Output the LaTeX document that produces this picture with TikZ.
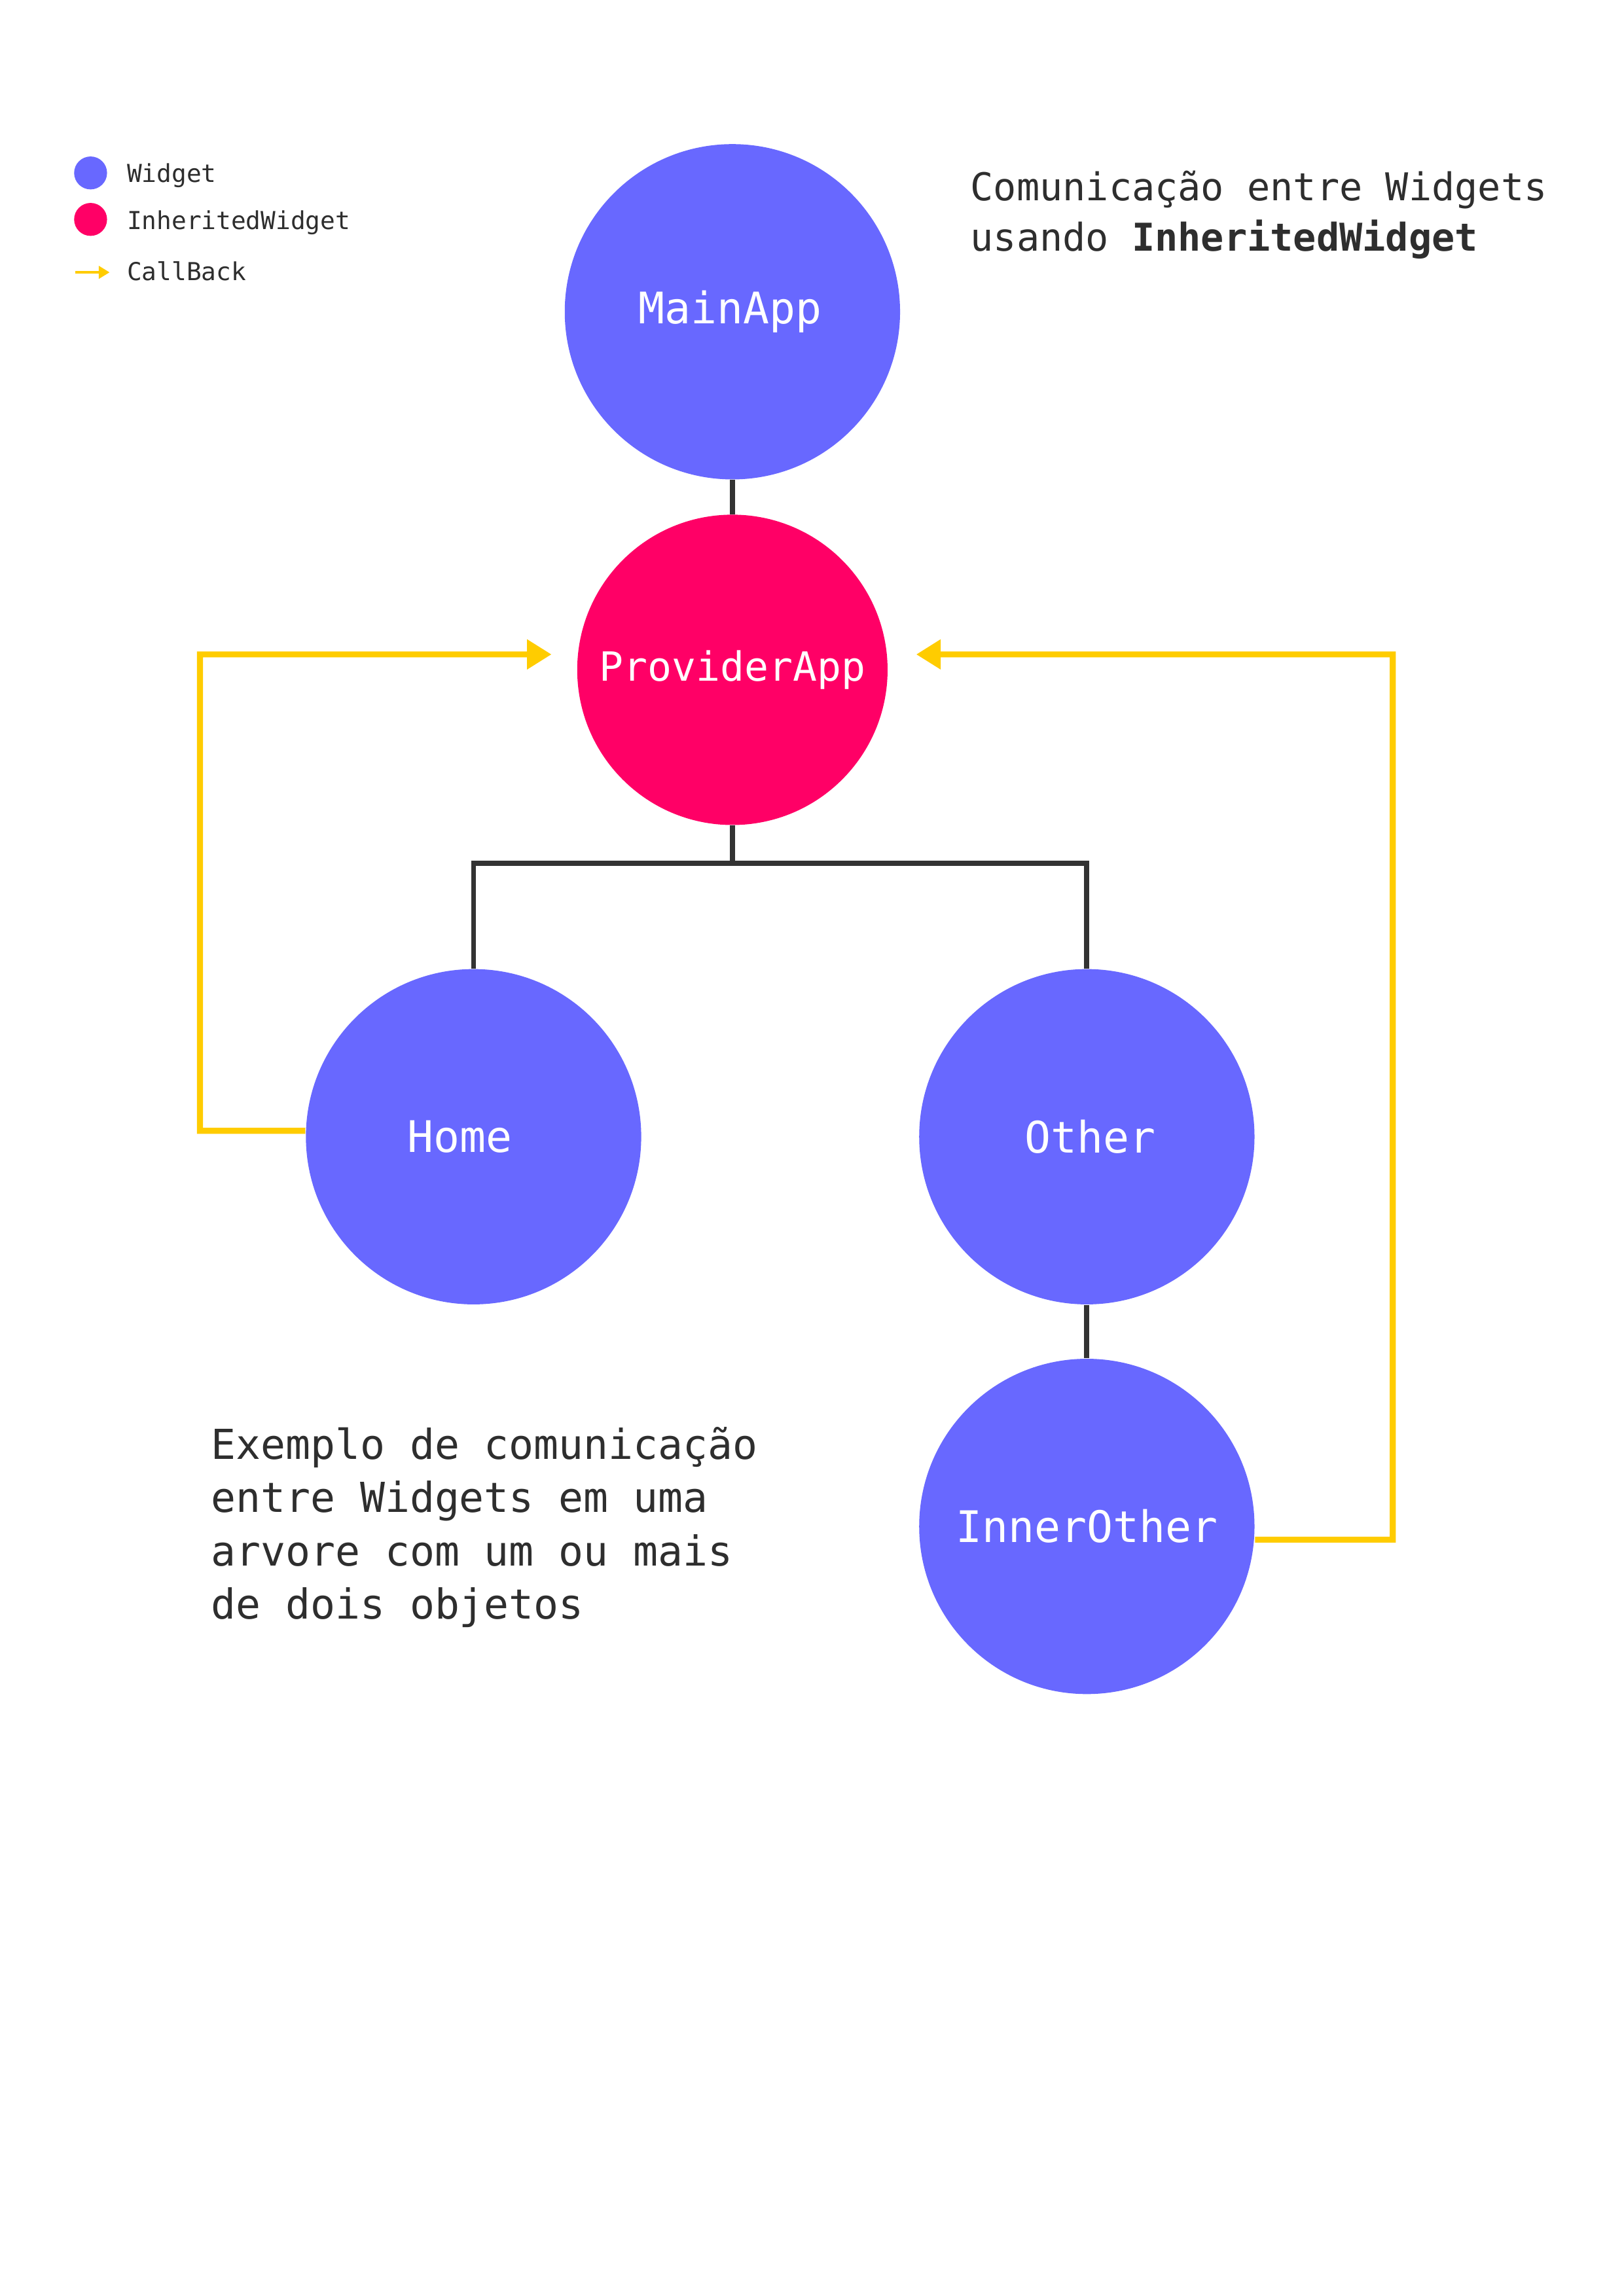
\documentclass[tikz,border=0pt]{standalone}
\usepackage{fontspec}
\setmainfont{DejaVu Sans}
\newfontfamily\monofnt{DejaVu Sans Mono}
\usetikzlibrary{arrows.meta,backgrounds}
\definecolor{wblue}{HTML}{6868FF}
\definecolor{wpink}{HTML}{FF0066}
\definecolor{cbyel}{HTML}{FFCC00}
\definecolor{treegray}{HTML}{333333}
\definecolor{txtgray}{HTML}{2E2E2E}
\begin{document}
\begin{tikzpicture}[x=0.19022mm,y=-0.19022mm,
  widget/.style={circle,fill=wblue,draw=none,inner sep=0pt,minimum size=43.37mm,
    text=white,font=\monofnt\fontsize{16}{19}\selectfont},
  inherited/.style={circle,fill=wpink,draw=none,inner sep=0pt,minimum size=40.14mm,
    text=white,font=\monofnt\fontsize{14.8}{18}\selectfont},
  treeline/.style={draw=treegray,line width=1.9pt},
  cbline/.style={draw=cbyel,line width=2.2pt,line join=miter,
    -{Triangle[length=3.16mm,width=3.69mm]}},
  legdot/.style={circle,inner sep=0pt,minimum size=4.26mm,draw=none},
  legtext/.style={anchor=base west,inner sep=0pt,text=txtgray,
    font=\monofnt\fontsize{9.1}{11}\selectfont},
  bigtext/.style={anchor=base west,inner sep=0pt,align=left,text=txtgray}
]
\useasboundingbox (0,0) rectangle (1104,1561.35);

% nodes
\node[widget] (main) at (498,212) {MainApp\kern0.5mm};
\node[inherited] (prov) at (498,455.5) {ProviderApp};
\node[widget] (home) at (322,773) {Home\kern3.6mm};
\node[widget] (other) at (739,773) {\kern0.8mmOther};
\node[widget] (inner) at (739,1038) {InnerOther};

\coordinate (bus) at (498,587);
\coordinate (cbL1) at (136,769);
\coordinate (cbL2) at (136,445);
\coordinate (tipL) at (375,445);
\coordinate (cbR1) at (947,1047);
\coordinate (cbR2) at (947,445);
\coordinate (tipR) at (623,445);

\begin{pgfonlayer}{background}
\fill[white] (0,0) rectangle (1104,1561.35);
\draw[treeline] (main) -- (prov);
\draw[treeline] (prov) -- (bus);
\draw[treeline,line join=miter] (bus) -| (home);
\draw[treeline,line join=miter] (bus) -| (other);
\draw[treeline] (other) -- (inner);
\draw[cbline] ([yshift=0.76mm]home.west) -- (cbL1) -- (cbL2) -- (tipL);
\draw[cbline] ([yshift=-1.71mm]inner.east) -- (cbR1) -- (cbR2) -- (tipR);
\end{pgfonlayer}

% legend
\node[legdot,fill=wblue] (ldw) at (61.6,117.6) {};
\node[legtext] (ltw) at (86,123.8) {Widget};
\node[legdot,fill=wpink] (ldi) at (61.6,149.2) {};
\node[legtext] (lti) at (86,155.8) {InheritedWidget};
\coordinate (la1) at (51.3,185.2);
\coordinate (la2) at (74.5,185.2);
\draw[draw=cbyel,line width=0.8pt,-{Triangle[length=1.39mm,width=1.62mm]}] (la1) -- (la2);
\node[legtext] (ltc) at (86,190.5) {CallBack};

% title (anchor at baseline of last line)
\node[bigtext,font=\monofnt\fontsize{14.1}{18.7}\selectfont] (title) at (659.5,170.9)
  {Comunicação entre Widgets\\usando \textbf{InheritedWidget}};

% description (anchor at baseline of last line)
\node[bigtext,font=\monofnt\fontsize{15.2}{19.65}\selectfont] (desc) at (143,1101)
  {Exemplo de comunicação\\entre Widgets em uma\\arvore com um ou mais\\de dois objetos};
\end{tikzpicture}
\end{document}
